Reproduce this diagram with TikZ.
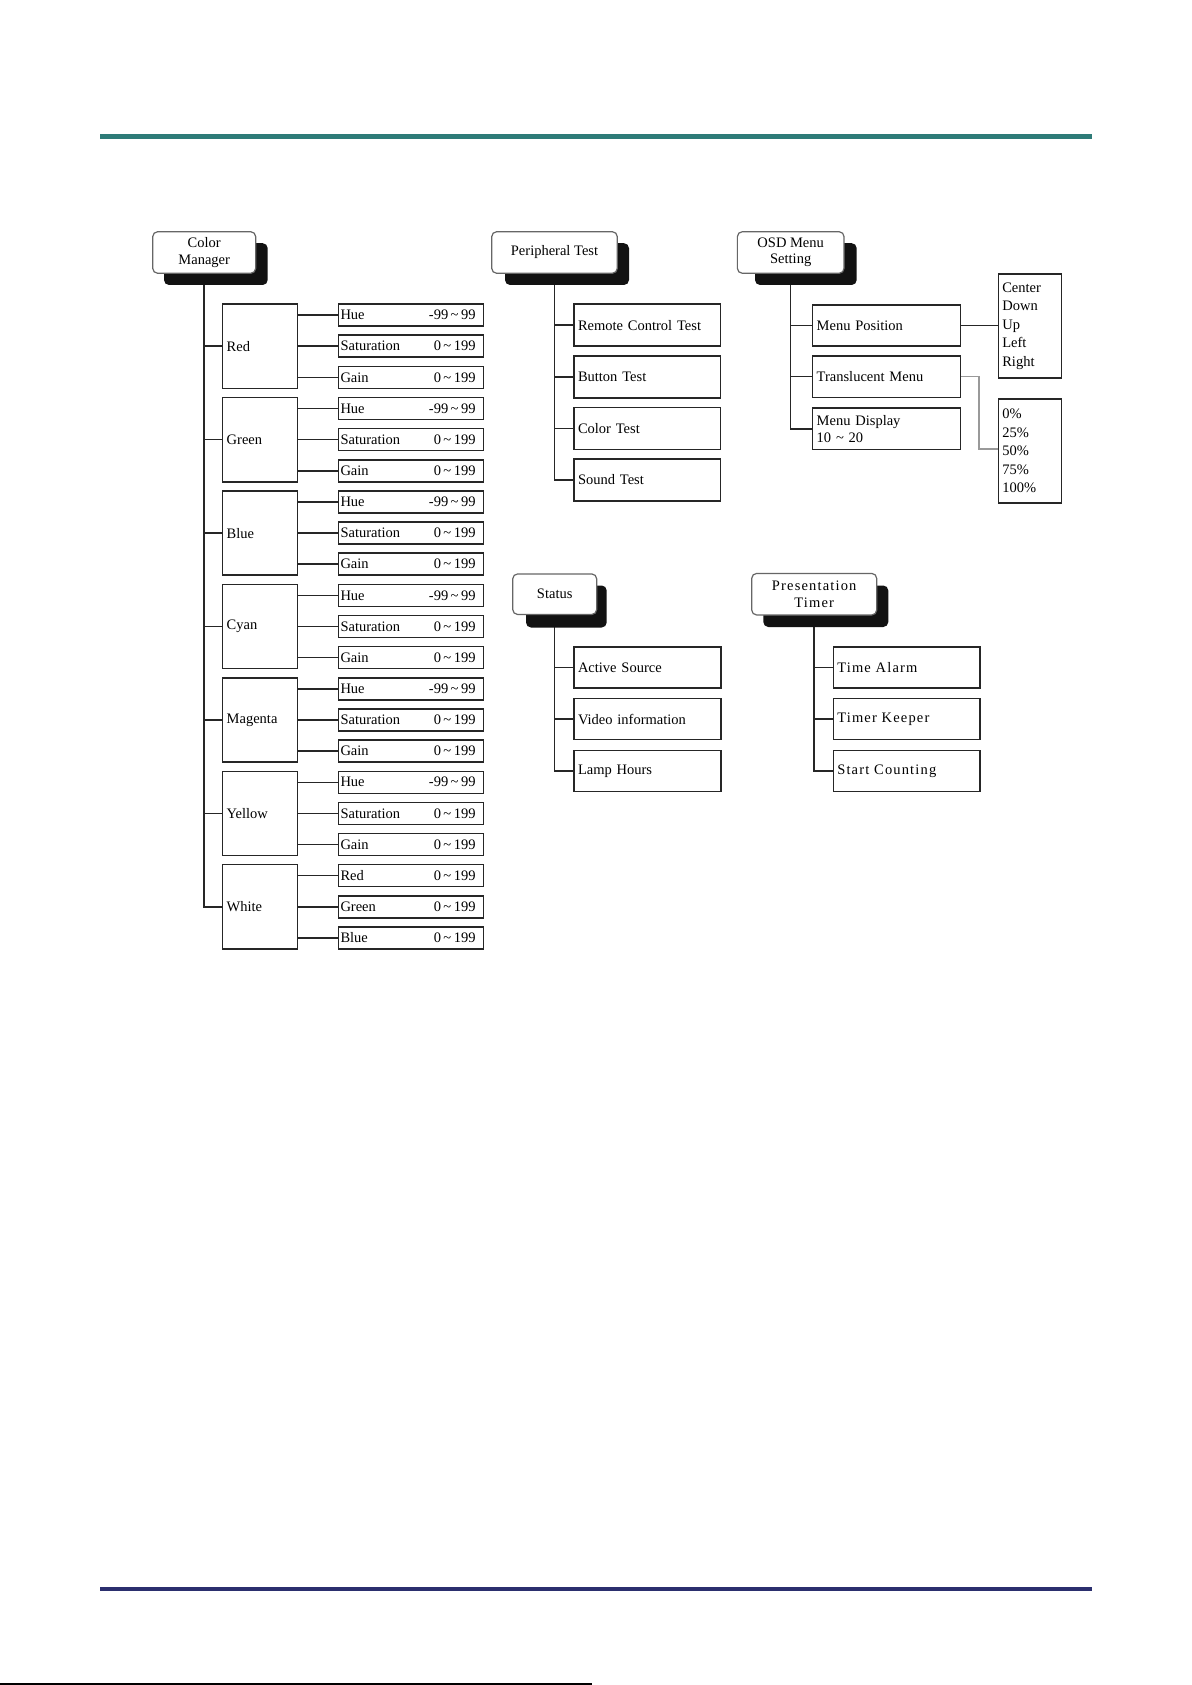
\documentclass[tikz,border=0pt]{standalone}
\usepackage{fontspec}
\setmainfont{Liberation Serif}
\definecolor{tealc}{HTML}{2E7B78}
\definecolor{navyc}{HTML}{2B2F6E}
\newcommand\boxfont{\fontsize{14.5pt}{16.5pt}\selectfont}
\newcommand\optfont{\fontsize{14.5pt}{18.5pt}\selectfont}
\newcommand\widefont{\fontsize{14.5pt}{16.5pt}\selectfont\addfontfeature{LetterSpace=8}}
\pgfdeclarelayer{bgwhite}
\pgfdeclarelayer{conns}
\pgfdeclarelayer{shadows}
\pgfsetlayers{bgwhite,conns,shadows,main}
\tikzset{
  conn/.style={draw=black!85, line width=1.5pt},
  gconn/.style={draw=black!40, line width=1.4pt},
  shd/.style={fill=black!93, rounded corners=5pt},
  hdr/.style={draw=black!60, fill=white, line width=1.2pt, rounded corners=5pt,
    align=center, inner sep=0pt, font=\boxfont},
  grp/.style={draw=black!85, line width=1.5pt, fill=white, minimum width=74.6pt,
    minimum height=84.3pt, text width=66.6pt, inner xsep=4pt, inner ysep=0pt,
    align=left, font=\boxfont},
  sub/.style={draw=black!85, line width=1.5pt, fill=white, minimum height=22pt,
    text width=141pt, inner xsep=2pt, inner ysep=0pt, align=left, font=\boxfont},
  child/.style={draw=black!85, line width=1.5pt, fill=white, minimum height=41.5pt,
    text width=#1, inner xsep=4pt, inner ysep=0pt, align=left, font=\boxfont},
  opt/.style={draw=black!85, line width=1.5pt, fill=white, minimum height=104pt,
    text width=55.4pt, inner xsep=4pt, inner ysep=0pt, align=left, font=\optfont},
}
\begin{document}
\begin{tikzpicture}[x=1pt,y=-1pt]
\begin{pgfonlayer}{bgwhite}
\fill[white] (0,0) rectangle (1191,1685);
\end{pgfonlayer}
\useasboundingbox (0,0) rectangle (1191,1685);

% page rules
\fill[tealc] (100,134.4) rectangle (1092,138.7);
\fill[navyc] (100,1586.6) rectangle (1092,1590.8);
\fill[black] (0,1682.6) rectangle (592,1685);

% ---------------- headers ----------------
\node[hdr, minimum width=103pt, minimum height=41.6pt] (cm) at (204.2,252.5) {Color\\Manager};
\node[hdr, minimum width=125.6pt, minimum height=41.6pt] (pt) at (554.5,252.5) {Peripheral Test};
\node[hdr, minimum width=106.7pt, minimum height=41.6pt] (osd) at (790.7,252.5) {OSD Menu\\Setting};
\node[hdr, minimum width=84pt, minimum height=40.6pt] (st) at (554.7,594.2) {Status};
\node[hdr, minimum width=125pt, minimum height=41.6pt, font=\widefont] (ptm) at (814.2,594.2) {Presentation\\Timer};

\begin{pgfonlayer}{shadows}
\fill[shd] (164,243.2) rectangle (267.7,285);
\fill[shd] (505,243.2) rectangle (629,285);
\fill[shd] (755,243.2) rectangle (856.7,285);
\fill[shd] (526,585.5) rectangle (606.7,627.5);
\fill[shd] (763.3,585.5) rectangle (888.3,627);
\end{pgfonlayer}

% ---------------- Color Manager ----------------
\foreach \nm [count=\g from 0] in {Red,Green,Blue,Cyan,Magenta,Yellow,White}{
  \node[grp] (g\g) at (260,{346.15+93.45*\g}) {\nm};
  \begin{pgfonlayer}{conns}
    \draw[conn] (cm.south) |- (g\g.west);
  \end{pgfonlayer}
}
\foreach \g in {0,...,5}{
  \foreach \lab/\lo/\hi [count=\k from 0] in {Hue/-99/99,Saturation/0/199,Gain/0/199}{
    \pgfmathtruncatemacro\i{3*\g+\k}
    \node[sub] (s\i) at (411,{315+31.15*\i}) {\lab\hfill\lo\,\textasciitilde\,\hi\kern6pt};
    \begin{pgfonlayer}{conns}
      \draw[conn] (g\g.east |- s\i.west) -- (s\i.west);
    \end{pgfonlayer}
  }
}
\foreach \lab [count=\i from 18] in {Red,Green,Blue}{
  \node[sub] (s\i) at (411,{315+31.15*\i}) {\lab\hfill 0\,\textasciitilde\,199\kern6pt};
  \begin{pgfonlayer}{conns}
    \draw[conn] (g6.east |- s\i.west) -- (s\i.west);
  \end{pgfonlayer}
}

% ---------------- Peripheral Test ----------------
\foreach \lab [count=\i from 0] in {Remote Control Test,Button Test,Color Test,Sound Test}{
  \node[child=138.7pt, minimum height=41.9pt] (p\i) at (647.35,{325.2+51.6*\i}) {\lab};
  \begin{pgfonlayer}{conns}
    \draw[conn] (pt.south) |- (p\i.west);
  \end{pgfonlayer}
}

% ---------------- OSD Menu Setting ----------------
\node[child=140pt, minimum height=41.3pt] (mp) at (886.7,325.5) {Menu Position};
\node[child=140pt, minimum height=41.3pt] (tm) at (886.7,376.7) {Translucent Menu};
\node[child=140pt, minimum height=41.3pt] (md) at (886.7,428.8) {Menu Display\\10 \textasciitilde{} 20};
\node[opt] (o1) at (1030,326.2) {Center\\Down\\Up\\Left\\Right};
\node[opt] (o2) at (1030,450.9) {0\%\\25\%\\50\%\\75\%\\100\%};
\begin{pgfonlayer}{conns}
  \draw[conn] (osd.south) |- (mp.west);
  \draw[conn] (osd.south) |- (tm.west);
  \draw[conn] (osd.south) |- (md.west);
  \draw[conn] (mp.east) -- (o1.west |- mp.east);
  \draw[gconn] (tm.east) -- ++(17.6,0) |- ([yshift=2pt]o2.west);
\end{pgfonlayer}

% ---------------- Status ----------------
\foreach \lab [count=\i from 0] in {Active Source,Video information,Lamp Hours}{
  \node[child=139pt, minimum height=41pt] (q\i) at (647.5,{667.5+51.7*\i}) {\lab};
  \begin{pgfonlayer}{conns}
    \draw[conn] (st.south) |- (q\i.west);
  \end{pgfonlayer}
}

% ---------------- Presentation Timer ----------------
\foreach \lab [count=\i from 0] in {Time Alarm,Timer Keeper,Start Counting}{
  \node[child=138.7pt, minimum height=41pt, font=\widefont] (r\i) at (906.65,{667.5+51.7*\i}) {\lab};
  \begin{pgfonlayer}{conns}
    \draw[conn] (ptm.south) |- (r\i.west);
  \end{pgfonlayer}
}
\end{tikzpicture}
\end{document}
